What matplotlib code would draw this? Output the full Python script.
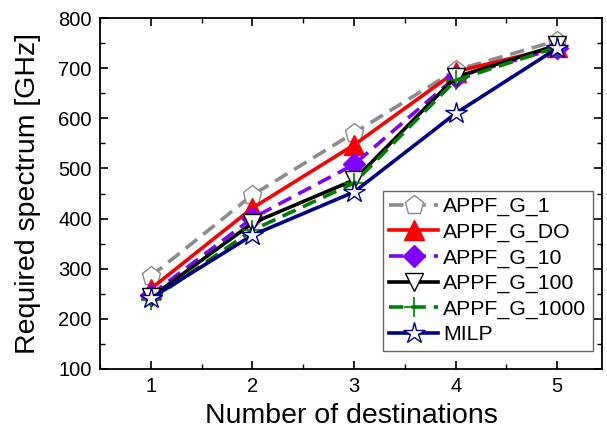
import matplotlib.pyplot as plt
from matplotlib.ticker import MultipleLocator

plt.rcParams["font.family"] = ["Liberation Sans", "DejaVu Sans"]

destinations = [1, 2, 3, 4, 5]
appf_g_1 = [285, 447, 571, 696, 755]
appf_g_do = [260, 421, 547, 693, 742]
appf_g_10 = [248, 401, 508, 682, 740]
appf_g_100 = [243, 391, 477, 682, 746]
appf_g_1000 = [237, 377, 471, 676, 742]
milp = [241, 367, 453, 610, 740]

fig = plt.figure(figsize=(6.07, 4.30), dpi=100)
ax = fig.add_axes([0.1647, 0.1419, 0.8271, 0.8161])

ax.plot(destinations, appf_g_1, color="#8c8c8c", linestyle=(0, (4, 2.2)), linewidth=2.6,
        marker="p", markersize=14, markerfacecolor="white", markeredgecolor="#8c8c8c",
        markeredgewidth=1.0, label="APPF_G_1")
ax.plot(destinations, appf_g_do, color="#ff0000", linewidth=2.6,
        marker="^", markersize=14, markerfacecolor="#ff0000", markeredgecolor="#ff0000",
        label="APPF_G_DO")
ax.plot(destinations, appf_g_10, color="#8000ff", linestyle=(0, (4, 2.2)), linewidth=2.6,
        marker="D", markersize=11, markerfacecolor="#8000ff", markeredgecolor="#8000ff",
        label="APPF_G_10")
ax.plot(destinations, appf_g_100, color="black", linewidth=2.6,
        marker="v", markersize=13, markerfacecolor="white", markeredgecolor="black",
        markeredgewidth=1.0, label="APPF_G_100")
ax.plot(destinations, appf_g_1000, color="#008000", linestyle=(0, (4, 2.2)), linewidth=2.6,
        marker="+", markersize=14, markeredgecolor="#008000", markeredgewidth=1.2,
        label="APPF_G_1000")
ax.plot(destinations, milp, color="#00008b", linewidth=2.6,
        marker="*", markersize=16, markerfacecolor="white", markeredgecolor="#00008b",
        markeredgewidth=1.0, label="MILP")

ax.set_xlim(0.5, 5.44)
ax.set_ylim(100, 800)
ax.xaxis.set_major_locator(MultipleLocator(1))
ax.xaxis.set_minor_locator(MultipleLocator(0.5))
ax.yaxis.set_major_locator(MultipleLocator(100))
ax.yaxis.set_minor_locator(MultipleLocator(50))
ax.tick_params(which="both", direction="in", top=True, right=True, labelsize=14.5)
ax.tick_params(which="major", length=6, width=1.2, pad=6)
ax.tick_params(which="minor", length=3.5, width=1.0)
for spine in ax.spines.values():
    spine.set_linewidth(1.3)

ax.set_xlabel("Number of destinations", fontsize=20.5, labelpad=5)
ax.set_ylabel("Required spectrum [GHz]", fontsize=20.5, labelpad=12)

leg = ax.legend(loc="lower right", bbox_to_anchor=(0.99, 0.04), fontsize=15.3,
                fancybox=False, edgecolor="#404040", handlelength=2.3,
                handletextpad=0.25, borderpad=0.3, labelspacing=0.3, borderaxespad=0.2)
leg.get_frame().set_linewidth(1.0)

fig.savefig("out.png", dpi=100)
plt.close()
